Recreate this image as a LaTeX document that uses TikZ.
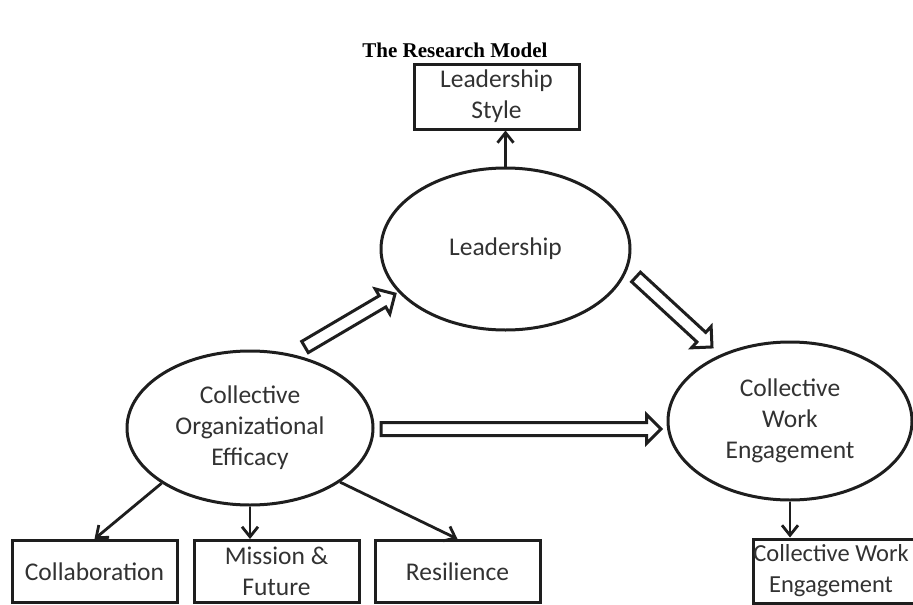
\documentclass[tikz,border=0pt]{standalone}
\usepackage{fontspec}
\setmainfont{Carlito}
\newfontfamily\titlefont{Liberation Serif}
\usetikzlibrary{shapes.geometric,shapes.arrows,arrows.meta,calc}
\definecolor{txt}{RGB}{50,50,50}
\definecolor{ln}{RGB}{30,30,30}
\tikzset{
 lbl/.style={font=\fontsize{25.5}{31}\selectfont, text=txt, align=center},
 oval/.style={ellipse, draw=ln, line width=3pt, inner sep=0pt, lbl},
 boxn/.style={rectangle, draw=ln, line width=3pt, inner sep=0pt, lbl},
 link/.style={draw=ln, line width=2.8pt, -{Straight Barb[length=10pt,width=16pt]}},
 blockarr/.style={single arrow, draw=ln, line width=3pt, fill=white, inner xsep=0pt, inner ysep=5pt, outer sep=0pt, minimum width=26pt, single arrow head extend=8pt, single arrow tip angle=90}
}
\newcommand\blockarrow[2]{\path let \p1=(#1), \p2=(#2), \n1={atan2(\y2-\y1,\x2-\x1)}, \n2={veclen(\x2-\x1,\y2-\y1)} in node[blockarr, anchor=tail, rotate=\n1, minimum height=\n2] at (\p1) {};}
\begin{document}
\begin{tikzpicture}[x=1pt,y=-1pt]
\useasboundingbox (0,0) rectangle (913,605);
\node[font=\titlefont\bfseries\fontsize{21}{25}\selectfont] (title) at (455,50) {The Research Model};
\node[boxn, minimum width=165pt, minimum height=65pt] (ls) at (496.5,96.5) {Leadership\\Style};
\node[oval, minimum width=249pt, minimum height=162pt] (lead) at (505.5,249) {Leadership};
\node[oval, minimum width=246pt, minimum height=154pt] (coe) at (250,428) {Collective\\Organizational\\Efficacy};
\node[oval, minimum width=244pt, minimum height=158pt] (cwe) at (790,421) {Collective\\Work\\Engagement};
\node[boxn, minimum width=165pt, minimum height=62pt] (collab) at (94.5,571.5) {Collaboration};
\node[boxn, minimum width=165pt, minimum height=62pt] (mission) at (276.5,571.5) {Mission \&\\Future};
\node[boxn, minimum width=165pt, minimum height=62pt] (res) at (457.5,571.5) {Resilience};
\node[boxn, minimum width=163pt, minimum height=64pt] (cwebox) at (834.5,571) {};
\node[lbl, font=\fontsize{24.5}{31}\selectfont] (cwetext) at (831,571) {Collective Work\\Engagement};
\coordinate (a1s) at (305,347); \coordinate (a1e) at (395,294);
\coordinate (a2s) at (636,277); \coordinate (a2e) at (712,347);
\coordinate (a3s) at (381,429); \coordinate (a3e) at (661,429);
\blockarrow{a1s}{a1e}
\blockarrow{a2s}{a2e}
\blockarrow{a3s}{a3e}
\draw[link] (lead.north) -- (lead.north |- ls.south);
\draw[link] (coe.212) -- (collab.north);
\draw[link] (coe.south) -- (coe.south |- mission.north);
\draw[link] (coe.329) -- (res.north);
\draw[link] (cwe.south) -- (cwe.south |- cwebox.north);
\end{tikzpicture}
\end{document}
